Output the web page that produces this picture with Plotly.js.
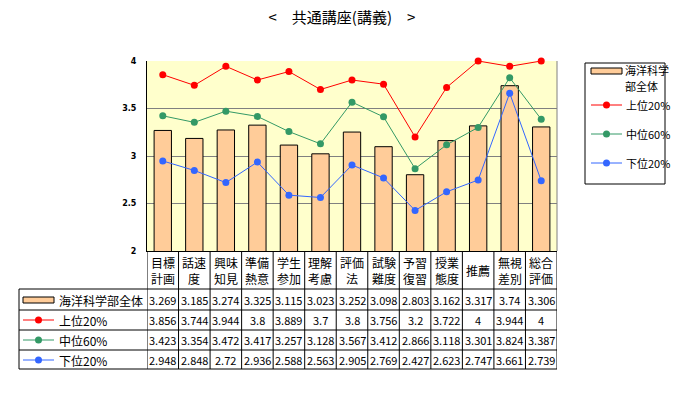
<!DOCTYPE html>
<html><head><meta charset="utf-8">
<script src="https://cdn.plot.ly/plotly-3.0.1.min.js"></script>
<style>html,body{margin:0;padding:0;background:#fff}</style>
</head><body>
<div id="chart" style="width:677px;height:399px"></div>
<script>
const categories = ['目標計画','話速度','興味知見','準備熱意','学生参加','理解考慮','評価法','試験難度','予習復習','授業態度','推薦','無視差別','総合評価'];
const catLabels = ['目標<br>計画','話速<br>度','興味<br>知見','準備<br>熱意','学生<br>参加','理解<br>考慮','評価<br>法','試験<br>難度','予習<br>復習','授業<br>態度','推薦','無視<br>差別','総合<br>評価'];
const seriesNames = ['海洋科学部全体','上位20%','中位60%','下位20%'];
const legendBarLines = ['海洋科学','部全体'];
const allValues = [3.269,3.185,3.274,3.325,3.115,3.023,3.252,3.098,2.803,3.162,3.317,3.74,3.306];
const top20 = [3.856,3.744,3.944,3.8,3.889,3.7,3.8,3.756,3.2,3.722,4,3.944,4];
const mid60 = [3.423,3.354,3.472,3.417,3.257,3.128,3.567,3.412,2.866,3.118,3.301,3.824,3.387];
const low20 = [2.948,2.848,2.72,2.936,2.588,2.563,2.905,2.769,2.427,2.623,2.747,3.661,2.739];
const yTicks = [2,2.5,3,3.5,4];

const barColor = '#FFCC99', red = '#FF0000', green = '#339966', blue = '#3366FF';
const font = "'Noto Sans CJK JP', 'Noto Sans', sans-serif";

// pixel -> paper helpers (plot area x:147..557, y:61..251)
const PX = p => (p - 147) / 410;
const PY = p => (251 - p) / 190;

const traces = [
  {type:'bar', x:categories, y:allValues, name:seriesNames[0],
   marker:{color:barColor, line:{color:'#000', width:1}}},
  {type:'scatter', mode:'lines+markers', x:categories, y:top20, name:seriesNames[1], cliponaxis:false,
   line:{color:red, width:1}, marker:{color:red, size:7}},
  {type:'scatter', mode:'lines+markers', x:categories, y:mid60, name:seriesNames[2],
   line:{color:green, width:1}, marker:{color:green, size:7}},
  {type:'scatter', mode:'lines+markers', x:categories, y:low20, name:seriesNames[3],
   line:{color:blue, width:1}, marker:{color:blue, size:7}}
];

const shapes = [];
const annotations = [];
const L = (x0,y0,x1,y1) => shapes.push({type:'line', xref:'paper', yref:'paper', x0:x0, y0:y0, x1:x1, y1:y1, line:{color:'#000', width:1}});

// right border of plot area (gray)
shapes.push({type:'line', xref:'paper', yref:'paper', x0:1, x1:1, y0:0, y1:1, line:{color:'#808080', width:1}});

// table lines
const rowLines = [289, 310, 330, 350, 369];
rowLines.forEach(r => L(PX(19), PY(r), 1, PY(r)));
L(PX(19), PY(289), PX(19), PY(369));
for (let i = 0; i <= categories.length; i++) {
  shapes.push({type:'line', xref:'x', yref:'paper', x0:i-0.5, x1:i-0.5, y0:PY(251), y1:PY(369), line:{color:'#000', width:1}});
}

// header labels
catLabels.forEach((c,i) => annotations.push({xref:'x', yref:'paper', x:categories[i], y:PY(270), text:c, showarrow:false,
  xanchor:'center', yanchor:'middle', font:{family:font, size:12, color:'#000'}}));

// rows
const rowData = [allValues, top20, mid60, low20];
const rowY = [300, 320, 340, 360];
const rowColors = [barColor, red, green, blue];
rowData.forEach((arr, r) => {
  arr.forEach((v,i) => annotations.push({xref:'x', yref:'paper', x:categories[i], y:PY(rowY[r]), text:String(v), showarrow:false,
    xanchor:'center', yanchor:'middle', font:{family:font, size:11, color:'#000'}}));
  annotations.push({xref:'paper', yref:'paper', x:PX(57), y:PY(rowY[r]), text:seriesNames[r], showarrow:false,
    xanchor:'left', yanchor:'middle', font:{family:font, size:12, color:'#000'}});
  if (r === 0) {
    shapes.push({type:'rect', xref:'paper', yref:'paper', x0:PX(23), x1:PX(54), y0:PY(rowY[r]-3), y1:PY(rowY[r]+3),
      fillcolor:barColor, line:{color:'#000', width:1}});
  } else {
    shapes.push({type:'line', xref:'paper', yref:'paper', x0:PX(23), x1:PX(54), y0:PY(rowY[r]), y1:PY(rowY[r]), line:{color:rowColors[r], width:1}});
    shapes.push({type:'circle', xref:'paper', yref:'paper', x0:PX(35), x1:PX(42), y0:PY(rowY[r]-3.5), y1:PY(rowY[r]+3.5),
      fillcolor:rowColors[r], line:{color:rowColors[r], width:0}});
  }
});

// right legend box
shapes.push({type:'rect', xref:'paper', yref:'paper', x0:PX(585), x1:PX(665), y0:PY(63), y1:PY(184), line:{color:'#000', width:1}, fillcolor:'rgba(0,0,0,0)'});
shapes.push({type:'rect', xref:'paper', yref:'paper', x0:PX(591), x1:PX(622), y0:PY(68), y1:PY(74), fillcolor:barColor, line:{color:'#000', width:1}});
[70, 86].forEach((y,k) => annotations.push({xref:'paper', yref:'paper', x:PX(624), y:PY(y), text:legendBarLines[k], showarrow:false, borderpad:0,
  xanchor:'left', yanchor:'middle', font:{family:font, size:11, color:'#000'}}));
const legY = [105, 134, 163];
[1,2,3].forEach((s,k) => {
  const y = legY[k];
  shapes.push({type:'line', xref:'paper', yref:'paper', x0:PX(591), x1:PX(622), y0:PY(y), y1:PY(y), line:{color:rowColors[s], width:1}});
  shapes.push({type:'circle', xref:'paper', yref:'paper', x0:PX(603), x1:PX(610), y0:PY(y-3.5), y1:PY(y+3.5), fillcolor:rowColors[s], line:{color:rowColors[s], width:0}});
  annotations.push({xref:'paper', yref:'paper', x:PX(624), y:PY(y), text:seriesNames[s], showarrow:false,
    xanchor:'left', yanchor:'middle', font:{family:font, size:11, color:'#000'}});
});

const layout = {
  width:677, height:399,
  margin:{l:147, r:120, t:61, b:148, pad:0, autoexpand:false},
  paper_bgcolor:'#fff', plot_bgcolor:'#FFFFCC',
  title:{text:'&lt;　共通講座(講義)　&gt;', x:0.505, xanchor:'center', y:0.955, yanchor:'middle', automargin:false, font:{family:font, size:15, color:'#000'}},
  showlegend:false,
  bargap:0.45,
  xaxis:{type:'category', range:[-0.5, categories.length - 0.5], automargin:false, showticklabels:false, showgrid:false, zeroline:false, showline:true, linecolor:'#000', linewidth:1, ticks:'', fixedrange:true},
  yaxis:{range:[2,4], automargin:false, tickvals:yTicks, ticktext:yTicks.map(String), showgrid:true, gridcolor:'#808080', gridwidth:1, zeroline:false,
    showline:true, linecolor:'#000', linewidth:1, ticks:'', ticklabelstandoff:8, tickfont:{family:'DejaVu Sans', size:8, color:'#000', weight:'bold'}, fixedrange:true},
  shapes:shapes, annotations:annotations
};

Plotly.newPlot('chart', traces, layout, {displayModeBar:false, staticPlot:true});
</script>
</body></html>
